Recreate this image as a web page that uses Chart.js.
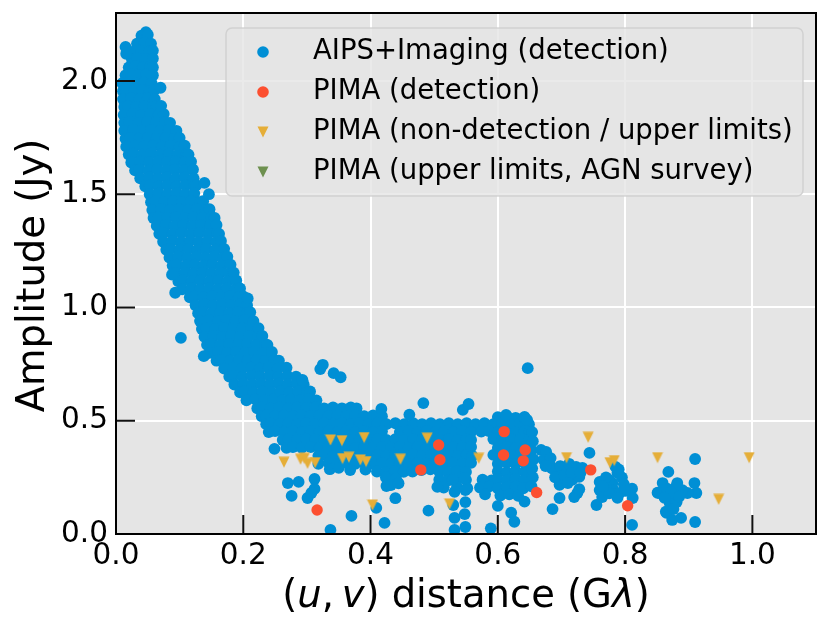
<!DOCTYPE html>
<html>
<head>
<meta charset="utf-8">
<script src="https://cdn.jsdelivr.net/npm/chart.js@4.4.1/dist/chart.umd.min.js"></script>
<style>
  html, body { margin: 0; padding: 0; background: #fff; }
  canvas { display: block; }
</style>
</head>
<body>
<canvas id="uvChart" width="830" height="632"></canvas>
<script>
'use strict';

const seriesNames = [
    'AIPS+Imaging (detection)',
    'PIMA (detection)',
    'PIMA (non-detection / upper limits)',
    'PIMA (upper limits, AGN survey)'
];
const xTickValues = [0, 0.2, 0.4, 0.6, 0.8, 1.0];
const yTickValues = [0, 0.5, 1.0, 1.5, 2.0];

// AIPS+Imaging detections, steep part of the curve  [uv distance (Glambda), amplitude (Jy)]
const aipsSteep = [
    [0.047,2.215],[0.040,2.200],[0.050,2.204],
    [0.033,2.165],[0.045,2.169],[0.055,2.165],
    [0.028,2.130],[0.040,2.134],[0.052,2.130],[0.058,2.134],
    [0.025,2.095],[0.034,2.099],[0.046,2.095],[0.058,2.099],
    [0.020,2.060],[0.030,2.064],[0.042,2.060],[0.054,2.064],[0.058,2.060],
    [0.015,2.025],[0.024,2.029],[0.036,2.025],[0.048,2.029],[0.058,2.025],
    [0.010,1.990],[0.020,1.994],[0.032,1.990],[0.044,1.994],[0.056,1.990],
    [0.011,1.955],[0.017,1.959],[0.029,1.955],[0.041,1.959],[0.053,1.955],[0.060,1.959],
    [0.011,1.920],[0.024,1.924],[0.037,1.920],[0.050,1.924],[0.061,1.920],
    [0.013,1.885],[0.019,1.889],[0.032,1.885],[0.045,1.889],[0.058,1.885],[0.064,1.889],
    [0.012,1.850],[0.026,1.854],[0.040,1.850],[0.054,1.854],[0.067,1.850],[0.075,1.854],
    [0.013,1.815],[0.021,1.819],[0.035,1.815],[0.049,1.819],[0.063,1.815],[0.077,1.819],[0.085,1.815],
    [0.013,1.780],[0.027,1.784],[0.041,1.780],[0.055,1.784],[0.069,1.780],[0.083,1.784],[0.095,1.780],
    [0.015,1.745],[0.022,1.749],[0.036,1.745],[0.050,1.749],[0.064,1.745],[0.078,1.749],[0.092,1.745],[0.100,1.749],
    [0.016,1.710],[0.030,1.714],[0.044,1.710],[0.058,1.714],[0.072,1.710],[0.086,1.714],[0.100,1.710],[0.108,1.714],
    [0.020,1.675],[0.027,1.679],[0.041,1.675],[0.055,1.679],[0.069,1.675],[0.083,1.679],[0.097,1.675],[0.111,1.679],[0.114,1.675],
    [0.024,1.640],[0.038,1.644],[0.052,1.640],[0.066,1.644],[0.080,1.640],[0.094,1.644],[0.108,1.640],[0.118,1.644],
    [0.030,1.605],[0.037,1.609],[0.051,1.605],[0.065,1.609],[0.079,1.605],[0.093,1.609],[0.107,1.605],[0.121,1.609],
    [0.038,1.570],[0.052,1.574],[0.066,1.570],[0.080,1.574],[0.094,1.570],[0.108,1.574],[0.122,1.570],
    [0.046,1.535],[0.053,1.539],[0.067,1.535],[0.081,1.539],[0.095,1.535],[0.109,1.539],[0.123,1.535],[0.126,1.539],
    [0.053,1.500],[0.067,1.504],[0.081,1.500],[0.095,1.504],[0.109,1.500],[0.123,1.504],
    [0.055,1.465],[0.062,1.469],[0.076,1.465],[0.090,1.469],[0.104,1.465],[0.118,1.469],[0.132,1.465],[0.137,1.469],
    [0.057,1.430],[0.071,1.434],[0.085,1.430],[0.099,1.434],[0.113,1.430],[0.127,1.434],[0.141,1.430],[0.147,1.434],
    [0.059,1.395],[0.066,1.399],[0.080,1.395],[0.094,1.399],[0.108,1.395],[0.122,1.399],[0.136,1.395],[0.150,1.399],[0.155,1.395],
    [0.064,1.360],[0.078,1.364],[0.092,1.360],[0.106,1.364],[0.120,1.360],[0.134,1.364],[0.148,1.360],[0.158,1.364],
    [0.068,1.325],[0.075,1.329],[0.089,1.325],[0.103,1.329],[0.117,1.325],[0.131,1.329],[0.145,1.325],[0.159,1.329],[0.162,1.325],
    [0.074,1.290],[0.088,1.294],[0.102,1.290],[0.116,1.294],[0.130,1.290],[0.144,1.294],[0.158,1.290],[0.165,1.294],
    [0.079,1.255],[0.086,1.259],[0.100,1.255],[0.114,1.259],[0.128,1.255],[0.142,1.259],[0.156,1.255],[0.170,1.259],
    [0.084,1.220],[0.098,1.224],[0.112,1.220],[0.126,1.224],[0.140,1.220],[0.154,1.224],[0.168,1.220],[0.175,1.224],
    [0.089,1.185],[0.096,1.189],[0.110,1.185],[0.124,1.189],[0.138,1.185],[0.152,1.189],[0.166,1.185],[0.180,1.189],
    [0.094,1.150],[0.108,1.154],[0.122,1.150],[0.136,1.154],[0.150,1.150],[0.164,1.154],[0.178,1.150],[0.185,1.154],
    [0.098,1.115],[0.105,1.119],[0.119,1.115],[0.133,1.119],[0.147,1.115],[0.161,1.119],[0.175,1.115],[0.189,1.119],
    [0.104,1.080],[0.118,1.084],[0.132,1.080],[0.146,1.084],[0.160,1.080],[0.174,1.084],[0.188,1.080],[0.195,1.084],
    [0.116,1.045],[0.123,1.049],[0.137,1.045],[0.151,1.049],[0.165,1.045],[0.179,1.049],[0.193,1.045],[0.200,1.049],
    [0.125,1.010],[0.139,1.014],[0.153,1.010],[0.167,1.014],[0.181,1.010],[0.195,1.014],[0.206,1.010],
    [0.129,0.975],[0.136,0.979],[0.150,0.975],[0.164,0.979],[0.178,0.975],[0.192,0.979],[0.206,0.975],[0.211,0.979],
    [0.132,0.940],[0.146,0.944],[0.160,0.940],[0.174,0.944],[0.188,0.940],[0.202,0.944],[0.216,0.940],
    [0.135,0.905],[0.142,0.909],[0.156,0.905],[0.170,0.909],[0.184,0.905],[0.198,0.909],[0.212,0.905],[0.224,0.909],
    [0.139,0.870],[0.153,0.874],[0.167,0.870],[0.181,0.874],[0.195,0.870],[0.209,0.874],[0.223,0.870],[0.230,0.874],
    [0.143,0.835],[0.150,0.839],[0.164,0.835],[0.178,0.839],[0.192,0.835],[0.206,0.839],[0.220,0.835],[0.234,0.839],[0.238,0.835],
    [0.147,0.800],[0.161,0.804],[0.175,0.800],[0.189,0.804],[0.203,0.800],[0.217,0.804],[0.231,0.800],[0.245,0.804],
    [0.158,0.765],[0.165,0.769],[0.179,0.765],[0.193,0.769],[0.207,0.765],[0.221,0.769],[0.235,0.765],[0.249,0.769],[0.256,0.765],
    [0.170,0.730],[0.184,0.734],[0.198,0.730],[0.212,0.734],[0.226,0.730],[0.240,0.734],[0.254,0.730],[0.268,0.734],
    [0.178,0.695],[0.185,0.699],[0.199,0.695],[0.213,0.699],[0.227,0.695],[0.241,0.699],[0.255,0.695],[0.269,0.699],[0.283,0.695],
    [0.186,0.660],[0.200,0.664],[0.214,0.660],[0.228,0.664],[0.242,0.660],[0.256,0.664],[0.270,0.660],[0.284,0.664],[0.295,0.660],
    [0.195,0.625],[0.202,0.629],[0.216,0.625],[0.230,0.629],[0.244,0.625],[0.258,0.629],[0.272,0.625],[0.286,0.629],[0.300,0.625],[0.305,0.629],
    [0.205,0.590],[0.219,0.594],[0.233,0.590],[0.247,0.594],[0.261,0.590],[0.275,0.594],[0.289,0.590],[0.303,0.594],[0.315,0.590]
];

// AIPS+Imaging detections, flat part between 0.22 and 0.66 Glambda
const aipsFlat = [
    [0.222,0.555],[0.229,0.559],[0.243,0.555],[0.257,0.559],[0.271,0.555],[0.285,0.559],[0.299,0.555],[0.313,0.559],
    [0.327,0.555],[0.341,0.559],[0.355,0.555],[0.369,0.559],[0.378,0.555],
    [0.229,0.520],[0.236,0.524],[0.250,0.520],[0.264,0.524],[0.278,0.520],[0.292,0.524],[0.306,0.520],[0.320,0.524],
    [0.334,0.520],[0.348,0.524],[0.362,0.520],[0.376,0.524],[0.390,0.520],[0.404,0.524],[0.418,0.520],
    [0.600,0.516],[0.614,0.520],[0.628,0.513],[0.642,0.517],
    [0.236,0.485],[0.243,0.489],[0.257,0.485],[0.271,0.489],[0.285,0.485],[0.299,0.489],[0.313,0.485],[0.327,0.489],
    [0.341,0.485],[0.355,0.489],[0.369,0.485],[0.383,0.489],[0.397,0.485],[0.411,0.489],[0.425,0.485],[0.439,0.489],
    [0.453,0.485],[0.467,0.489],[0.481,0.485],[0.495,0.489],[0.509,0.485],[0.523,0.489],[0.537,0.485],[0.551,0.489],
    [0.565,0.485],[0.579,0.489],[0.593,0.485],[0.607,0.489],[0.621,0.485],[0.635,0.489],[0.649,0.485],
    [0.240,0.450],[0.250,0.454],[0.264,0.450],[0.278,0.454],[0.292,0.450],[0.306,0.454],[0.320,0.450],[0.334,0.454],
    [0.348,0.450],[0.362,0.454],[0.376,0.450],[0.390,0.454],[0.404,0.450],[0.418,0.454],[0.446,0.450],[0.460,0.454],
    [0.474,0.450],[0.488,0.454],[0.502,0.450],[0.516,0.454],[0.530,0.450],[0.544,0.454],[0.558,0.450],[0.574,0.452],
    [0.586,0.454],[0.600,0.450],[0.614,0.454],[0.628,0.450],[0.642,0.454],[0.650,0.450],
    [0.262,0.415],[0.271,0.419],[0.285,0.415],[0.299,0.419],[0.313,0.415],[0.327,0.419],[0.341,0.415],[0.355,0.419],
    [0.369,0.415],[0.383,0.419],[0.397,0.415],[0.411,0.419],[0.425,0.415],[0.439,0.419],[0.453,0.415],[0.467,0.419],
    [0.481,0.415],[0.495,0.419],[0.509,0.415],[0.523,0.419],[0.537,0.415],[0.551,0.419],[0.558,0.415],
    [0.593,0.419],[0.607,0.415],[0.621,0.419],[0.635,0.415],[0.649,0.419],
    [0.268,0.380],[0.278,0.384],[0.292,0.380],[0.306,0.384],[0.320,0.380],[0.334,0.384],[0.348,0.380],[0.362,0.384],
    [0.376,0.380],[0.390,0.384],[0.404,0.380],[0.418,0.384],[0.432,0.380],[0.446,0.384],[0.460,0.380],[0.474,0.384],
    [0.488,0.380],[0.502,0.384],[0.516,0.380],[0.530,0.384],[0.544,0.380],[0.558,0.384],
    [0.600,0.380],[0.614,0.384],[0.628,0.380],[0.642,0.384],[0.650,0.380],
    [0.318,0.345],[0.327,0.349],[0.341,0.345],[0.355,0.349],[0.369,0.345],[0.383,0.349],[0.397,0.345],[0.411,0.349],
    [0.425,0.345],[0.439,0.349],[0.453,0.345],[0.467,0.349],[0.481,0.345],[0.495,0.349],[0.509,0.345],[0.523,0.349],
    [0.537,0.345],[0.551,0.349],[0.560,0.345],[0.593,0.349],[0.607,0.345],[0.621,0.349],[0.635,0.345],[0.649,0.349],
    [0.318,0.310],[0.334,0.314],[0.348,0.310],[0.362,0.314],[0.376,0.310],[0.390,0.314],[0.404,0.310],[0.418,0.314],
    [0.432,0.310],[0.446,0.314],[0.460,0.310],[0.474,0.314],[0.488,0.310],[0.502,0.314],[0.516,0.310],[0.530,0.314],
    [0.544,0.310],[0.558,0.314],[0.600,0.310],[0.614,0.314],[0.628,0.310],[0.642,0.314],[0.650,0.310],
    [0.336,0.286],[0.350,0.292],[0.368,0.282],[0.392,0.284],[0.410,0.276],[0.424,0.272],[0.438,0.278],[0.452,0.274],
    [0.466,0.276],[0.480,0.282],[0.494,0.285],[0.508,0.276],[0.522,0.272],[0.536,0.278],[0.550,0.274],[0.600,0.276],
    [0.614,0.272],[0.628,0.278],[0.642,0.274],
    [0.424,0.250],[0.440,0.245],[0.508,0.240],[0.522,0.237],[0.536,0.243],[0.550,0.239],[0.576,0.240],[0.590,0.237],
    [0.600,0.241],[0.614,0.237],[0.628,0.243],[0.642,0.239],
    [0.515,0.205],[0.536,0.209],[0.552,0.202],[0.572,0.205],[0.586,0.209],[0.600,0.202],[0.614,0.206],[0.628,0.209],
    [0.640,0.202],
    [0.580,0.175],[0.604,0.170],[0.618,0.175],[0.632,0.168],
    [0.654,0.450],[0.655,0.410],[0.653,0.370],[0.656,0.330],[0.654,0.290],[0.655,0.250],[0.653,0.210]
];

// AIPS+Imaging detections, isolated points and the long-baseline clumps
const aipsOuter = [
    [0.088,1.145],[0.093,1.065],[0.102,0.866],[0.138,0.785],[0.207,1.040],
    [0.139,1.550],[0.146,1.500],[0.070,1.970],[0.071,1.890],[0.015,2.150],[0.016,2.120],
    [0.325,0.747],[0.321,0.728],[0.342,0.710],[0.353,0.692],[0.293,0.680],
    [0.483,0.578],[0.545,0.548],[0.554,0.574],[0.461,0.527],[0.417,0.552],
    [0.613,0.526],[0.642,0.512],[0.646,0.504],[0.647,0.732],
    [0.249,0.376],
    [0.270,0.225],[0.287,0.230],[0.312,0.243],[0.312,0.199],[0.276,0.168],[0.301,0.159],[0.307,0.181],
    [0.370,0.080],[0.337,0.018],[0.425,0.212],[0.409,0.115],[0.422,0.049],
    [0.432,0.216],[0.444,0.224],[0.439,0.158],[0.491,0.103],[0.505,0.208],
    [0.529,0.239],[0.532,0.186],[0.530,0.128],[0.532,0.071],[0.532,0.018],
    [0.548,0.247],[0.549,0.194],[0.549,0.141],[0.548,0.088],[0.549,0.031],
    [0.600,0.124],[0.621,0.094],[0.626,0.054],[0.589,0.025],[0.642,0.143],
    [0.668,0.371],[0.676,0.362],[0.672,0.327],[0.681,0.310],[0.692,0.270],[0.708,0.283],[0.723,0.296],[0.733,0.292],
    [0.701,0.239],[0.717,0.239],[0.728,0.252],[0.697,0.217],[0.725,0.181],[0.720,0.163],[0.697,0.159],[0.686,0.110],
    [0.744,0.358],[0.728,0.198],[0.685,0.290],[0.698,0.300],[0.712,0.310],[0.690,0.250],[0.704,0.260],[0.716,0.270],
    [0.730,0.270],[0.710,0.225],[0.683,0.335],[0.675,0.300],[0.755,0.128],
    [0.785,0.296],[0.788,0.270],[0.760,0.194],[0.771,0.203],[0.780,0.203],[0.791,0.181],[0.764,0.163],[0.780,0.225],
    [0.775,0.239],[0.811,0.200],[0.812,0.159],[0.811,0.040],[0.770,0.250],[0.760,0.230],[0.795,0.250],[0.798,0.220],
    [0.800,0.190],[0.775,0.180],[0.788,0.160],[0.765,0.210],[0.790,0.285],
    [0.868,0.274],[0.910,0.331],[0.909,0.225],[0.912,0.181],[0.859,0.225],[0.854,0.181],[0.882,0.225],[0.874,0.159],
    [0.865,0.093],[0.874,0.062],[0.888,0.071],[0.910,0.053],[0.898,0.181],[0.890,0.194],[0.870,0.137],[0.881,0.141],
    [0.851,0.182],[0.880,0.209],[0.864,0.099],[0.866,0.200],[0.872,0.185],[0.862,0.160],[0.876,0.110],[0.885,0.165]
];

const pimaDetected = [
    [0.316,0.106],[0.507,0.393],[0.509,0.328],[0.479,0.283],[0.610,0.452],[0.609,0.349],
    [0.643,0.371],[0.640,0.323],[0.661,0.183],[0.746,0.283],[0.804,0.125]
];

const pimaUpper = [
    [0.264,0.317],[0.290,0.330],[0.296,0.334],[0.301,0.312],[0.313,0.315],[0.337,0.415],
    [0.355,0.412],[0.390,0.426],[0.356,0.333],[0.366,0.339],[0.384,0.327],[0.393,0.320],
    [0.403,0.128],[0.489,0.423],[0.447,0.330],[0.570,0.334],[0.524,0.133],[0.708,0.337],
    [0.742,0.427],[0.776,0.315],[0.783,0.324],[0.851,0.337],[0.995,0.337],[0.947,0.153]
];

const pimaAgnUpper = [];

const colors = ['#008fd5', '#fc4f30', '#e5ae38', '#6d904f'];

function toXY(list) {
    return list.map(p => ({x: p[0], y: p[1]}));
}

// matplotlib style "v" marker: as wide as it is tall
function triangleDown(color) {
    let c = document.createElement('canvas');
    c.width = 12;
    c.height = 12;
    let g = c.getContext('2d');
    g.fillStyle = color;
    g.beginPath();
    g.moveTo(0.5, 0.5);
    g.lineTo(11.5, 0.5);
    g.lineTo(6, 11.5);
    g.closePath();
    g.fill();
    return c;
}

const markers = [
    'circle',
    'circle',
    triangleDown(colors[2]),
    triangleDown(colors[3])
];

const FONT = '"DejaVu Sans", "Liberation Sans", sans-serif';
Chart.defaults.font.family = FONT;
Chart.defaults.color = '#000';

const framePlugin = {
    id: 'frame',
    beforeDraw(chart) {
        let a = chart.chartArea, ctx = chart.ctx;
        ctx.save();
        ctx.fillStyle = '#e5e5e5';
        ctx.fillRect(a.left, a.top, a.right - a.left, a.bottom - a.top);
        ctx.restore();
    },
    afterDraw(chart) {
        let a = chart.chartArea, ctx = chart.ctx;
        let xs = chart.scales.x, ys = chart.scales.y;
        ctx.save();

        // legend box
        let lx = 226, ly = 28, lw = 577, lh = 168;
        ctx.beginPath();
        ctx.roundRect(lx, ly, lw, lh, 6);
        ctx.fillStyle = 'rgba(229,229,229,0.8)';
        ctx.fill();
        ctx.lineWidth = 1.5;
        ctx.strokeStyle = 'rgba(204,204,204,0.8)';
        ctx.stroke();
        ctx.font = '27.5px ' + FONT;
        ctx.textBaseline = 'middle';
        ctx.textAlign = 'left';
        for (let i = 0; i < seriesNames.length; i++) {
            let my = 52 + 40 * i;
            if (markers[i] === 'circle') {
                ctx.beginPath();
                ctx.arc(263, my, 5.8, 0, Math.PI * 2);
                ctx.fillStyle = colors[i];
                ctx.fill();
            } else {
                ctx.drawImage(markers[i], 257, my - 6);
            }
            ctx.fillStyle = '#000';
            ctx.fillText(seriesNames[i], 313, my);
        }

        // inward ticks
        ctx.strokeStyle = '#111';
        ctx.lineWidth = 2;
        ctx.beginPath();
        for (let v of xTickValues) {
            let px = xs.getPixelForValue(v);
            ctx.moveTo(px, a.bottom);
            ctx.lineTo(px, a.bottom - 19);
        }
        for (let v of yTickValues) {
            let py = ys.getPixelForValue(v);
            ctx.moveTo(a.left, py);
            ctx.lineTo(a.left + 19, py);
        }
        ctx.stroke();

        // spines
        ctx.strokeStyle = '#000';
        ctx.strokeRect(a.left, a.top, a.right - a.left, a.bottom - a.top);

        // axis titles, u, v and lambda in italic like the math text
        ctx.fillStyle = '#000';
        ctx.textBaseline = 'alphabetic';
        let parts = [['(', ''], ['u', 'italic '], [',\u2009', ''], ['v', 'italic '], [') distance (G', ''], ['\u03bb', 'italic '], [')', '']];
        let total = 0;
        for (let p of parts) {
            ctx.font = p[1] + '38.5px ' + FONT;
            total += ctx.measureText(p[0]).width;
        }
        let cx = (a.left + a.right) / 2 - total / 2;
        for (let p of parts) {
            ctx.font = p[1] + '38.5px ' + FONT;
            ctx.fillText(p[0], cx, 607);
            cx += ctx.measureText(p[0]).width;
        }

        ctx.font = '38.5px ' + FONT;
        ctx.translate(43.5, (a.top + a.bottom) / 2 + 2);
        ctx.rotate(-Math.PI / 2);
        ctx.textAlign = 'center';
        ctx.fillText('Amplitude (Jy)', 0, 0);
        ctx.restore();
    }
};

let uvChart = document.querySelector('#uvChart');

new Chart(uvChart, {
    type: 'scatter',
    data: {
        datasets: [
            {
                label: seriesNames[0],
                data: toXY(aipsSteep.concat(aipsFlat, aipsOuter)),
                backgroundColor: colors[0],
                pointStyle: markers[0],
                pointRadius: 5.9,
                order: 3
            },
            {
                label: seriesNames[1],
                data: toXY(pimaDetected),
                backgroundColor: colors[1],
                pointStyle: markers[1],
                pointRadius: 5.7,
                order: 2
            },
            {
                label: seriesNames[2],
                data: toXY(pimaUpper),
                backgroundColor: colors[2],
                pointStyle: markers[2],
                pointRadius: 6,
                order: 1
            },
            {
                label: seriesNames[3],
                data: toXY(pimaAgnUpper),
                backgroundColor: colors[3],
                pointStyle: markers[3],
                pointRadius: 6,
                order: 0
            }
        ]
    },
    options: {
        responsive: false,
        devicePixelRatio: 1,
        animation: false,
        events: [],
        clip: 0,
        layout: {padding: {top: 13, right: 14, left: 0, bottom: 0}},
        elements: {point: {borderWidth: 0, hoverRadius: 5.9, hoverBorderWidth: 0}},
        plugins: {
            legend: {display: false},
            tooltip: {enabled: false}
        },
        scales: {
            x: {
                type: 'linear',
                min: 0,
                max: 1.1,
                z: 1,
                afterBuildTicks: (s) => { s.ticks = xTickValues.map(v => ({value: v})); },
                afterFit: (s) => {
                    s.height = 98;
                    s.paddingLeft = 0;
                    s.paddingRight = 0;
                },
                border: {display: false},
                grid: {color: '#ffffff', lineWidth: 2, drawTicks: false},
                ticks: {
                    padding: 5,
                    font: {size: 29.5},
                    color: '#000',
                    maxRotation: 0,
                    callback: (v) => Number(v).toFixed(1)
                }
            },
            y: {
                type: 'linear',
                min: 0,
                max: 2.3,
                z: 1,
                afterBuildTicks: (s) => { s.ticks = yTickValues.map(v => ({value: v})); },
                afterFit: (s) => {
                    s.width = 116;
                    s.paddingTop = 0;
                    s.paddingBottom = 0;
                },
                border: {display: false},
                grid: {color: '#ffffff', lineWidth: 2, drawTicks: false},
                ticks: {
                    padding: 8,
                    font: {size: 29.5},
                    color: '#000',
                    callback: (v) => Number(v).toFixed(1)
                }
            }
        }
    },
    plugins: [framePlugin]
});
</script>
</body>
</html>
